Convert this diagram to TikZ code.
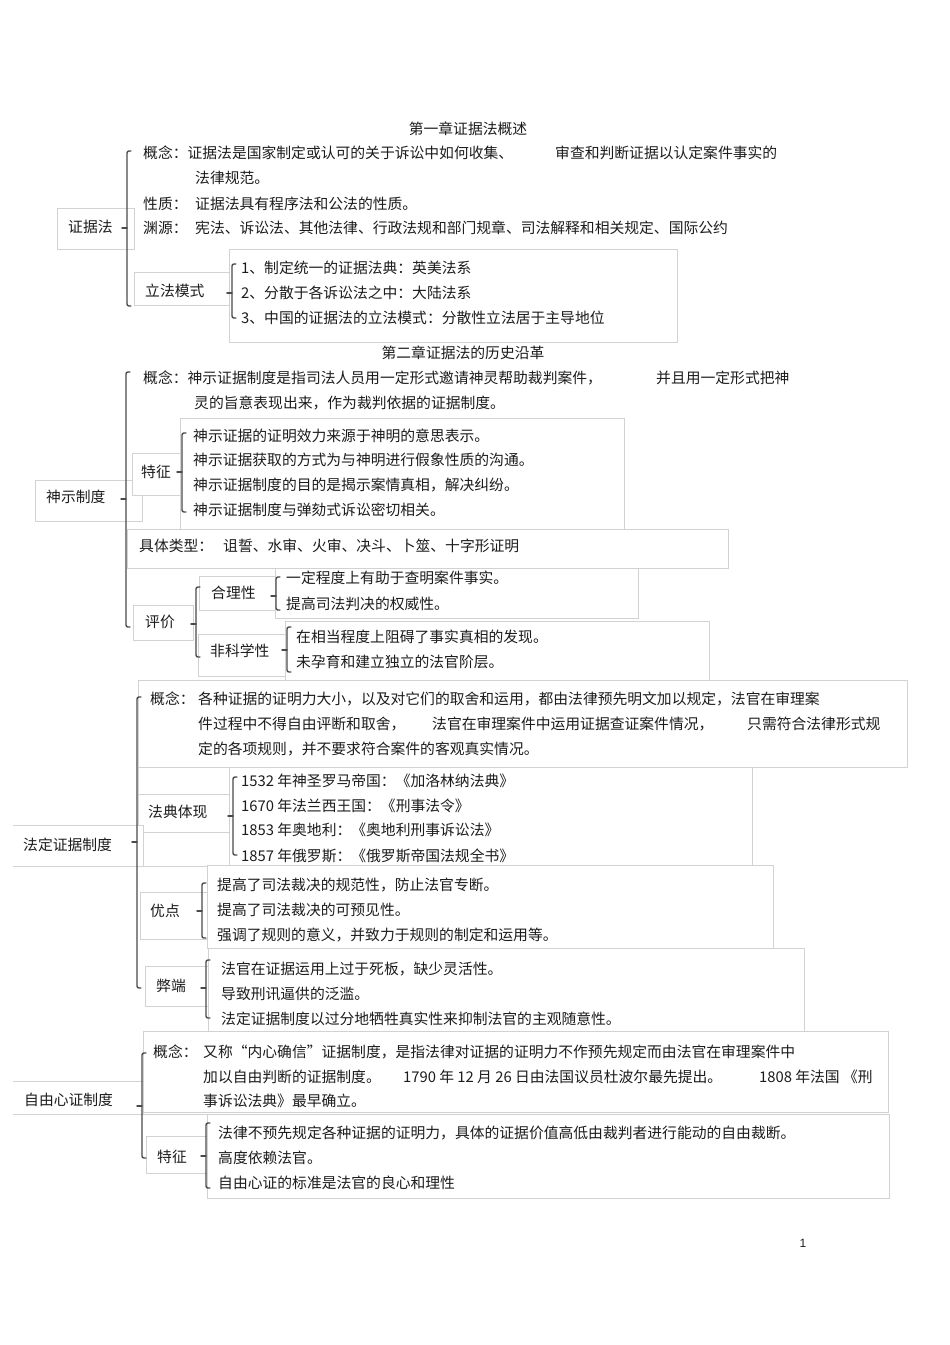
\documentclass[tikz,border=0pt]{standalone}
\usepackage{fontspec}
\setmainfont{Noto Sans CJK SC}
\newfontfamily\ziffern{Liberation Sans}

\definecolor{kastengrau}{HTML}{D2D2D2}
\definecolor{klammergrau}{HTML}{4A4A4A}
\definecolor{schrift}{HTML}{1C1C1C}

\tikzset{
  kasten/.style={draw=kastengrau, line width=0.8pt, fill=white},
  klammer/.style={draw=klammergrau, line width=1.4pt, line cap=round, rounded corners=2pt},
  txt/.style={anchor=west, inner sep=0pt, text height=12.9pt, text depth=1.8pt,
    text=schrift, font=\fontsize{14.8}{17}\selectfont},
}

% Klammer: x, oben, unten, Mitte
\newcommand{\klammer}[4]{%
  \draw[klammer] (#1+4,#2) -- (#1,#2) -- (#1,#3) -- (#1+4,#3);
  \draw[klammer] (#1-5,#4) -- (#1,#4);}

\begin{document}
\begin{tikzpicture}[x=1pt,y=-1pt]
  \useasboundingbox (0,0) rectangle (950,1345);
  \fill[white] (0,0) rectangle (950,1345);

  % Kapitel 1
  \node[txt, anchor=center] (titel1) at (468,129) {第一章证据法概述};
  \draw[kasten] (57,208) rectangle (134,249);
  \draw[kasten] (229,249) rectangle (677,342);
  \draw[kasten] (134,272) rectangle (229,305);
  \klammer{127}{151}{306}{228}
  \klammer{232}{264}{318}{293}
  \node[txt] (zjf) at (68,227) {证据法};
  \node[txt] (gn1a) at (143,153) {概念：证据法是国家制定或认可的关于诉讼中如何收集、};
  \node[txt] (gn1b) at (555,153) {审查和判断证据以认定案件事实的};
  \node[txt] (gn1c) at (195,178) {法律规范。};
  \node[txt] (xz) at (143,204) {性质：};
  \node[txt] (xzt) at (195,204) {证据法具有程序法和公法的性质。};
  \node[txt] (yy) at (143,228) {渊源：};
  \node[txt] (yyt) at (195,228) {宪法、诉讼法、其他法律、行政法规和部门规章、司法解释和相关规定、国际公约};
  \node[txt] (lfms) at (145,291) {立法模式};
  \node[txt] (lf1) at (241,268) {1、制定统一的证据法典：英美法系};
  \node[txt] (lf2) at (241,293) {2、分散于各诉讼法之中：大陆法系};
  \node[txt] (lf3) at (241,318) {3、中国的证据法的立法模式：分散性立法居于主导地位};

  % Kapitel 2
  \node[txt, anchor=center] (titel2) at (463,353) {第二章证据法的历史沿革};
  \draw[kasten] (35,480) rectangle (142,521);
  \draw[kasten] (132,453) rectangle (180,495);
  \draw[kasten] (180,418) rectangle (624,529);
  \draw[kasten] (127,529) rectangle (728,568);
  \draw[kasten] (127,568) -- (275,568);
  \draw[kasten] (275,568) rectangle (638,618);
  \draw[kasten] (133,605) rectangle (193,640);
  \draw[kasten] (199,576) rectangle (275,610);
  \draw[kasten] (285,621) rectangle (709,680);
  \draw[kasten] (198,634) rectangle (285,676);
  \klammer{126}{372}{627}{499}
  \klammer{182}{433}{512}{472}
  \klammer{196}{587}{657}{624}
  \klammer{276}{577}{610}{596}
  \klammer{287}{627}{672}{650}
  \node[txt] (ssz) at (46,497) {神示制度};
  \node[txt] (gn2a) at (143,378) {概念：神示证据制度是指司法人员用一定形式邀请神灵帮助裁判案件，};
  \node[txt] (gn2b) at (656,378) {并且用一定形式把神};
  \node[txt] (gn2c) at (194,403) {灵的旨意表现出来，作为裁判依据的证据制度。};
  \node[txt] (tz) at (141,472) {特征};
  \node[txt] (tz1) at (193,436) {神示证据的证明效力来源于神明的意思表示。};
  \node[txt] (tz2) at (193,460) {神示证据获取的方式为与神明进行假象性质的沟通。};
  \node[txt] (tz3) at (193,485) {神示证据制度的目的是揭示案情真相，解决纠纷。};
  \node[txt] (tz4) at (193,510) {神示证据制度与弹劾式诉讼密切相关。};
  \node[txt] (jtlx) at (139,546) {具体类型：};
  \node[txt] (jtlxt) at (223,546) {诅誓、水审、火审、决斗、卜筮、十字形证明};
  \node[txt] (pj) at (145,622) {评价};
  \node[txt] (hlx) at (211,593) {合理性};
  \node[txt] (hl1) at (286,578) {一定程度上有助于查明案件事实。};
  \node[txt] (hl2) at (286,604) {提高司法判决的权威性。};
  \node[txt] (fkx) at (210,651) {非科学性};
  \node[txt] (fk1) at (296,637) {在相当程度上阻碍了事实真相的发现。};
  \node[txt] (fk2) at (296,662) {未孕育和建立独立的法官阶层。};

  % Legaltheorie
  \draw[kasten] (138,680) rectangle (907,767);
  \draw[kasten] (229,767) rectangle (752,865);
  \draw[kasten] (138,767) rectangle (229,794);
  \draw[kasten] (143,832) rectangle (229,866);
  \draw[kasten] (138,794) rectangle (229,832);
  \draw[kasten] (13,825) -- (143,825) -- (143,866) -- (13,866);
  \draw[kasten] (207,865) rectangle (773,948);
  \draw[kasten] (140,892) rectangle (207,939);
  \draw[kasten] (208,948) rectangle (804,1031);
  \draw[kasten] (145,966) rectangle (208,1006);
  \klammer{137}{697}{988}{842}
  \klammer{233}{777}{855}{816}
  \klammer{202}{883}{938}{911}
  \klammer{206}{960}{1018}{988}
  \node[txt] (fdzj) at (23,845) {法定证据制度};
  \node[txt] (gn3) at (150,699) {概念：};
  \node[txt] (gn3a) at (198,699) {各种证据的证明力大小，以及对它们的取舍和运用，都由法律预先明文加以规定，法官在审理案};
  \node[txt] (gn3b) at (198,724) {件过程中不得自由评断和取舍，};
  \node[txt] (gn3c) at (432,724) {法官在审理案件中运用证据查证案件情况，};
  \node[txt] (gn3d) at (747,724) {只需符合法律形式规};
  \node[txt] (gn3e) at (198,749) {定的各项规则，并不要求符合案件的客观真实情况。};
  \node[txt] (fdtx) at (148,812) {法典体现};
  \node[txt] (fd1) at (241,781) {1532 年神圣罗马帝国：《加洛林纳法典》};
  \node[txt] (fd2) at (241,806) {1670 年法兰西王国：《刑事法令》};
  \node[txt] (fd3) at (241,830) {1853 年奥地利：《奥地利刑事诉讼法》};
  \node[txt] (fd4) at (241,856) {1857 年俄罗斯：《俄罗斯帝国法规全书》};
  \node[txt] (yd) at (150,911) {优点};
  \node[txt] (yd1) at (217,885) {提高了司法裁决的规范性，防止法官专断。};
  \node[txt] (yd2) at (217,910) {提高了司法裁决的可预见性。};
  \node[txt] (yd3) at (217,935) {强调了规则的意义，并致力于规则的制定和运用等。};
  \node[txt] (bd) at (156,986) {弊端};
  \node[txt] (bd1) at (221,969) {法官在证据运用上过于死板，缺少灵活性。};
  \node[txt] (bd2) at (221,994) {导致刑讯逼供的泛滥。};
  \node[txt] (bd3) at (221,1019) {法定证据制度以过分地牺牲真实性来抑制法官的主观随意性。};

  % Freie Beweiswuerdigung
  \draw[kasten] (143,1031) rectangle (888,1112);
  \draw[kasten] (13,1081) -- (143,1081) -- (143,1114) -- (13,1114);
  \draw[kasten] (143,1114) -- (207,1114);
  \draw[kasten] (207,1114) rectangle (889,1198);
  \draw[kasten] (146,1136) rectangle (207,1173);
  \klammer{142}{1053}{1158}{1106}
  \klammer{206}{1123}{1188}{1156}
  \node[txt] (zyxz) at (24,1100) {自由心证制度};
  \node[txt] (gn4) at (153,1052) {概念：};
  \node[txt] (gn4a) at (203,1052) {又称“内心确信”证据制度，是指法律对证据的证明力不作预先规定而由法官在审理案件中};
  \node[txt] (gn4b) at (203,1077) {加以自由判断的证据制度。};
  \node[txt] (gn4c) at (403,1077) {1790 年 12 月 26 日由法国议员杜波尔最先提出。};
  \node[txt] (gn4d) at (759,1077) {1808 年法国 《刑};
  \node[txt] (gn4e) at (203,1101) {事诉讼法典》最早确立。};
  \node[txt] (tzb) at (157,1157) {特征};
  \node[txt] (tzb1) at (218,1133) {法律不预先规定各种证据的证明力，具体的证据价值高低由裁判者进行能动的自由裁断。};
  \node[txt] (tzb2) at (218,1158) {高度依赖法官。};
  \node[txt] (tzb3) at (218,1183) {自由心证的标准是法官的良心和理性};

  \node[txt, anchor=center, font=\ziffern\fontsize{12}{14}\selectfont] (seite) at (803,1242) {1};
\end{tikzpicture}
\end{document}
